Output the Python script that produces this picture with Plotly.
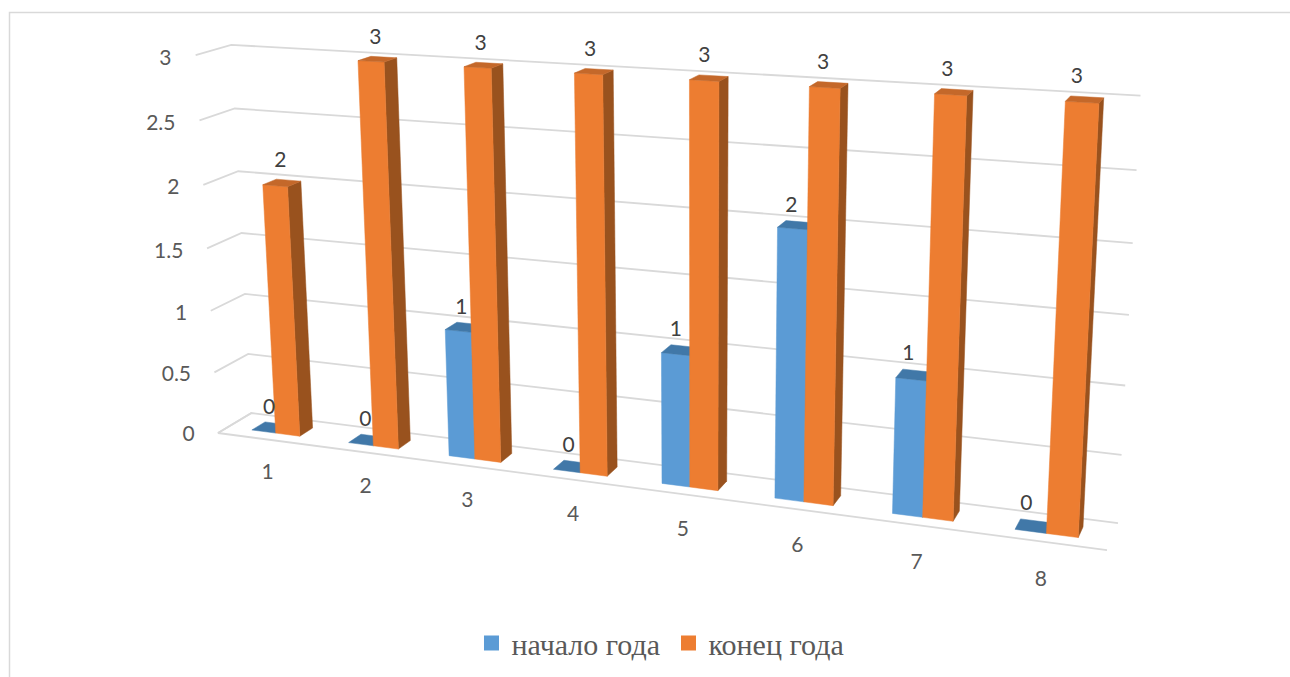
import plotly.graph_objects as go

# --- data ---
categories = ["1", "2", "3", "4", "5", "6", "7", "8"]
start_year = [0, 0, 1, 0, 1, 2, 1, 0]
end_year = [2, 3, 3, 3, 3, 3, 3, 3]
value_ticks = [0, 0.5, 1, 1.5, 2, 2.5, 3]
value_labels = ["0", "0.5", "1", "1.5", "2", "2.5", "3"]
series_names = ["начало года", "конец года"]

# --- 3D perspective (vanishing points of the category, depth and value directions) ---
ORIGIN = (218.0, 433.0)
VP_X, KX = (-4916.0, -243.0), -0.1476 / 8
VP_Y, KY = (1455.0, -305.0), 0.0278
VP_Z, KZ = (697.0, 8530.0), -0.0446 / 3


def project(x, y, z):
    w = 1 + KX * x + KY * y + KZ * z
    sx = (ORIGIN[0] + KX * x * VP_X[0] + KY * y * VP_Y[0] + KZ * z * VP_Z[0]) / w
    sy = (ORIGIN[1] + KX * x * VP_X[1] + KY * y * VP_Y[1] + KZ * z * VP_Z[1]) / w
    return sx, sy


Y0, Y1 = 0.3, 0.7
BAR = 0.25
GAP = 0.25
COLORS = [
    dict(front="#5B9BD5", top="#4178A8", side="#3F6E9A"),
    dict(front="#ED7D31", top="#C4682A", side="#99521E"),
]
GRID = "#D9D9D9"

fig = go.Figure()


def poly(points, color):
    pts = [project(*p) for p in points]
    pts.append(pts[0])
    fig.add_trace(go.Scatter(
        x=[p[0] for p in pts], y=[p[1] for p in pts], mode="lines",
        fill="toself", fillcolor=color, line=dict(width=0.5, color=color),
        hoverinfo="skip", showlegend=False))


def line(points):
    pts = [project(*p) for p in points]
    fig.add_trace(go.Scatter(
        x=[p[0] for p in pts], y=[p[1] for p in pts], mode="lines",
        line=dict(width=1.8, color=GRID), hoverinfo="skip", showlegend=False))


N = len(categories)
# walls and floor
for v in value_ticks:
    line([(0, 0, v), (0, 1, v), (N, 1, v)])
line([(0, 1, 0), (0, 0, 0), (N, 0, 0)])

# bars
for i in range(N):
    for s, vals in enumerate([start_year, end_year]):
        v = vals[i]
        x0 = i + GAP + s * BAR
        x1 = x0 + BAR
        c = COLORS[s]
        if v > 0:
            poly([(x1, Y0, 0), (x1, Y1, 0), (x1, Y1, v), (x1, Y0, v)], c["side"])
            poly([(x0, Y0, 0), (x1, Y0, 0), (x1, Y0, v), (x0, Y0, v)], c["front"])
        poly([(x0, Y0, v), (x1, Y0, v), (x1, Y1, v), (x0, Y1, v)], c["top"])

# data labels
for s, vals in enumerate([start_year, end_year]):
    nudge = [-0.08, -0.08][s]
    lift = [0.03, 0.055][s]
    pts = [project(i + GAP + (s + 0.5) * BAR + nudge, Y1, vals[i] + lift) for i in range(N)]
    fig.add_trace(go.Scatter(
        x=[p[0] for p in pts], y=[p[1] for p in pts], mode="text",
        text=[str(v) for v in vals], textposition="top center",
        textfont=dict(family="Lato", size=21, color="#404040"),
        hoverinfo="skip", showlegend=False))

# value axis labels
pts = [project(-0.25, 0, v - 0.05) for v in value_ticks]
fig.add_trace(go.Scatter(
    x=[p[0] for p in pts], y=[p[1] for p in pts], mode="text",
    text=value_labels, textposition="middle left",
    textfont=dict(family="Lato", size=21, color="#595959"),
    hoverinfo="skip", showlegend=False))

# category axis labels
pts = [project(i + 0.5, 0, -0.285) for i in range(N)]
fig.add_trace(go.Scatter(
    x=[p[0] for p in pts], y=[p[1] for p in pts], mode="text",
    text=categories, textposition="middle center",
    textfont=dict(family="Lato", size=21, color="#595959"),
    hoverinfo="skip", showlegend=False))

# legend entries
for s, name in enumerate(series_names):
    fig.add_trace(go.Scatter(
        x=[None], y=[None], mode="markers", name=name,
        marker=dict(symbol="square", size=15, color=COLORS[s]["front"])))

fig.update_layout(
    width=1290, height=677, margin=dict(l=0, r=0, t=0, b=0),
    paper_bgcolor="white", plot_bgcolor="white",
    xaxis=dict(range=[0, 1290], visible=False, fixedrange=True),
    yaxis=dict(range=[677, 0], visible=False, fixedrange=True),
    legend=dict(orientation="h", x=0.3655, xanchor="left", y=0.012, yanchor="bottom",
                font=dict(family="Liberation Serif", size=30, color="#595959"),
                bgcolor="rgba(0,0,0,0)", itemwidth=30,
                entrywidth=152, entrywidthmode="pixels"),
    shapes=[dict(type="rect", xref="x", yref="y", x0=9.5, y0=12.5, x1=1300, y1=700,
                 line=dict(color=GRID, width=1.5), layer="below")],
)

fig.write_html("out.html", config=dict(displayModeBar=False),
               post_script="document.body.style.margin='0';")
